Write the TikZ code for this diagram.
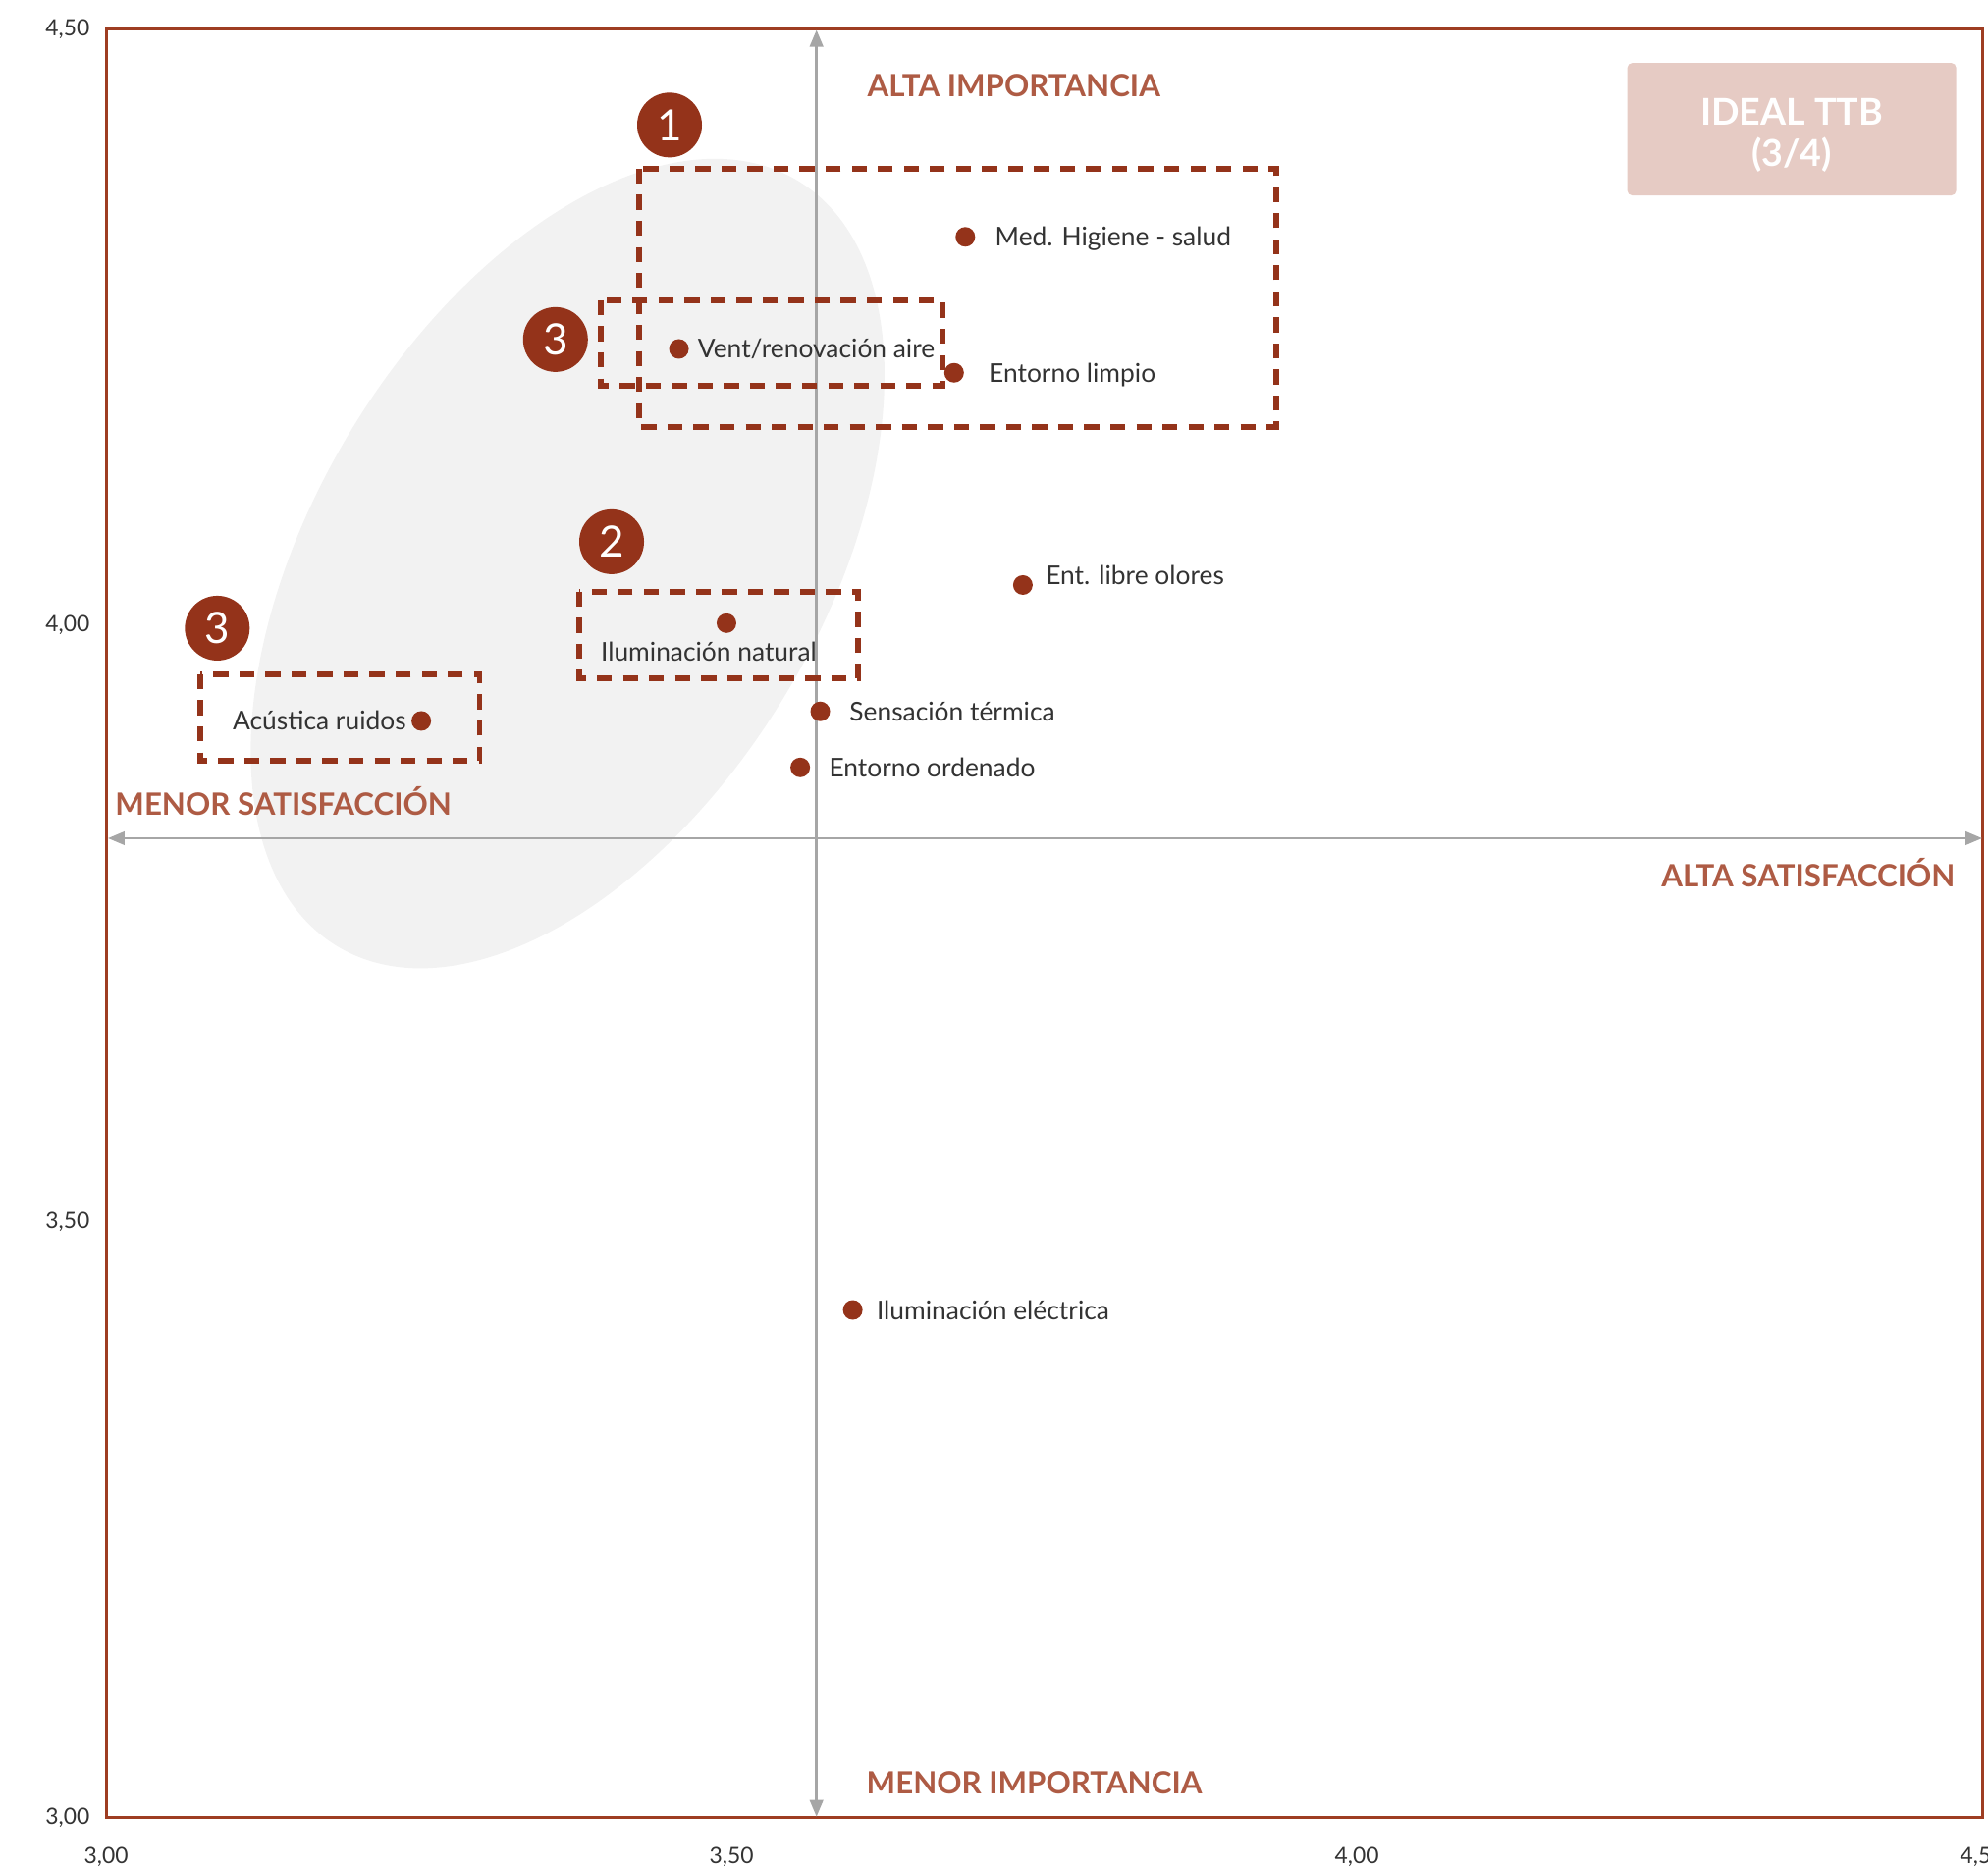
\documentclass[tikz,border=0pt]{standalone}
\usepackage{fontspec}
\setmainfont{Lato}
\usetikzlibrary{positioning,arrows.meta}

\definecolor{rojo}{HTML}{94331A}
\definecolor{marcorojo}{HTML}{9E3D22}
\definecolor{cabeza}{HTML}{AE5B44}
\definecolor{rosa}{HTML}{E6CBC4}
\definecolor{gris}{HTML}{A6A6A6}
\definecolor{nube}{HTML}{F2F2F2}
\definecolor{texto}{HTML}{333333}

\begin{document}
\begin{tikzpicture}[x=12.74cm,
					y=12.147cm,
					punto/.style={circle,fill=rojo,inner sep=0pt,minimum size=2mm},
					etiqueta/.style={inner sep=0pt,text height=1.9mm,text depth=0pt,text=texto,
						font=\fontsize{7.5}{8.5}\selectfont},
					numero/.style={circle,fill=rojo,text=white,inner sep=0pt,minimum size=6.6mm,
						font=\fontsize{12.5}{12.5}\selectfont},
					zona/.style={draw=rojo,line width=1.5pt,dash pattern=on 4.35pt off 3.2pt},
					cabecera/.style={inner sep=0pt,text height=2.25mm,text depth=0pt,text=cabeza,
						font=\bfseries\fontsize{8.9}{10}\selectfont},
					eje/.style={draw=gris,line width=0.75pt,
						{Triangle[length=1.7mm,width=1.35mm]}-{Triangle[length=1.7mm,width=1.35mm]}},
					escala/.style={inner sep=0pt,text=texto,font=\fontsize{6.5}{7.5}\selectfont}]

  \useasboundingbox (2.9152,2.95888) rectangle (4.50471,4.5247);

  % zona gris
  \coordinate (c) at (3.369,4.052);
  \fill[nube, rotate around={59:(c)}] (c) ellipse (4.55cm and 2.59cm);

  % marco y ejes
  \draw[marcorojo, line width=0.85pt] (3,3) rectangle (4.5,4.5);
  \coordinate (izq) at (3.0015,3.8216);
  \coordinate (der) at (4.5,3.8216);
  \coordinate (arriba) at (3.568,4.4995);
  \coordinate (abajo) at (3.568,3.001);
  \draw[eje] (izq) -- (der);
  \draw[eje] (abajo) -- (arriba);

  \foreach \v/\t in {3/{3,00},3.5/{3,50},4/{4,00},4.5/{4,50}} {
    \node[escala, anchor=east] at ([xshift=-1.6mm]3,\v) {\t};
    \node[escala] at ([yshift=-4mm]\v,3) {\t};
  }

  % zonas
  \draw[zona] (3.4262,4.3831) rectangle (3.9356,4.1666);
  \draw[zona] (3.3956,4.2728) rectangle (3.6688,4.2012);
  \draw[zona] (3.3783,4.0283) rectangle (3.6013,3.9558);
  \draw[zona] (3.0754,3.9591) rectangle (3.2987,3.8867);

  \node[numero] (n1) at (3.4505,4.4198) {1};
  \node[numero] (n3a) at (3.3593,4.2399) {3};
  \node[numero] (n2) at (3.4042,4.0703) {2};
  \node[numero] (n3b) at (3.0889,3.9978) {3};

  % puntos
  \node[punto] (med) at (3.687,4.326) {};
  \node[punto] (vent) at (3.458,4.232) {};
  \node[punto] (limpio) at (3.678,4.212) {};
  \node[punto] (olores) at (3.733,4.034) {};
  \node[punto] (natural) at (3.496,4.002) {};
  \node[punto] (termica) at (3.571,3.928) {};
  \node[punto] (ordenado) at (3.555,3.881) {};
  \node[punto] (ruidos) at (3.252,3.920) {};
  \node[punto] (electrica) at (3.597,3.426) {};

  \node[etiqueta, right=1.9mm of med] {Med. Higiene - salud};
  \node[etiqueta, right=0.8mm of vent] {Vent/renovación aire};
  \node[etiqueta, right=2.4mm of limpio] {Entorno limpio};
  \node[etiqueta, anchor=west] at ([xshift=1.2mm,yshift=1mm]olores.east) {Ent. libre olores};
  \node[etiqueta] at ([xshift=-1.8mm,yshift=-2.9mm]natural.center) {Iluminación natural};
  \node[etiqueta, right=1.85mm of termica] {Sensación térmica};
  \node[etiqueta, right=1.8mm of ordenado] {Entorno ordenado};
  \node[etiqueta, left=0.4mm of ruidos] {Acústica ruidos};
  \node[etiqueta, right=1.3mm of electrica] {Iluminación eléctrica};

  % cabeceras
  \node[cabecera, anchor=west] (altaimp) at (3.6083,4.4528) {ALTA IMPORTANCIA};
  \node[cabecera, anchor=west] (menorimp) at (3.6075,3.0297) {MENOR IMPORTANCIA};
  \node[cabecera, anchor=west] (menorsat) at (3.0068,3.8498) {MENOR SATISFACCIÓN};
  \node[cabecera, anchor=east] (altasat) at (4.4788,3.7898) {ALTA SATISFACCIÓN};

  \node[fill=rosa, rounded corners=0.5mm, minimum width=3.35cm, minimum height=1.35cm]
    (ideal) at (4.3478,4.4163) {};
  \node[text=white, align=center, font=\bfseries\fontsize{10.7}{11.9}\selectfont]
    (idealtxt) at ([yshift=-0.6mm]ideal.center) {IDEAL TTB\\(3/4)};
\end{tikzpicture}
\end{document}
